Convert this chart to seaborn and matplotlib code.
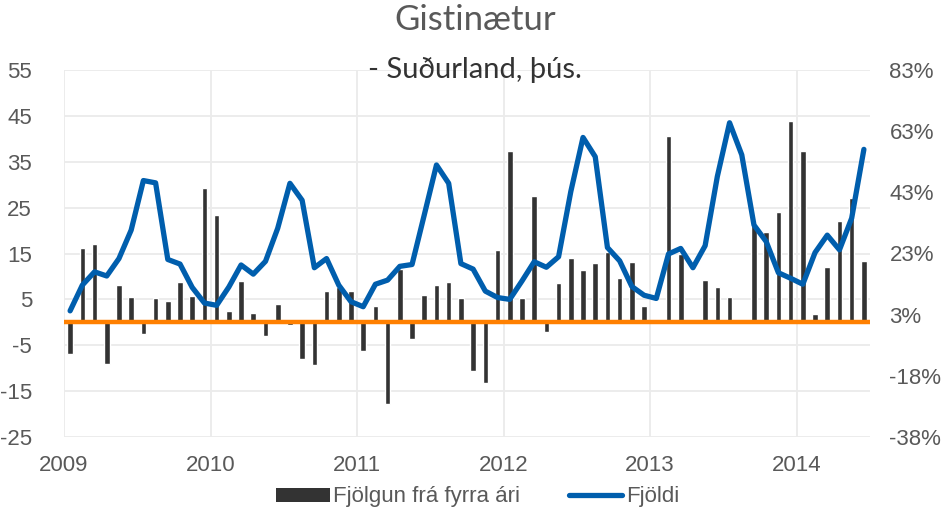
import numpy as np
import pandas as pd
import matplotlib
matplotlib.use("Agg")
import matplotlib.pyplot as plt
import seaborn as sns
from matplotlib.patches import Patch
from matplotlib.lines import Line2D

# Monthly guest nights in South Iceland, Jan 2009 - Jun 2014
months = pd.date_range("2009-01-01", "2014-06-01", freq="MS")

# Guest nights, thousands (left axis)
fjoldi = [
    2.5, 8.1, 11.0, 10.1, 13.9, 20.1, 30.9, 30.4, 13.7, 12.7, 7.6, 4.2,
    3.7, 7.7, 12.5, 10.5, 13.3, 20.5, 30.3, 26.6, 11.9, 13.9, 8.1, 4.5,
    3.4, 8.3, 9.2, 12.2, 12.6, 23.4, 34.3, 30.3, 12.8, 11.6, 6.8, 5.4,
    5.0, 9.0, 13.2, 12.0, 14.3, 28.5, 40.3, 36.1, 16.3, 13.4, 7.8, 5.9,
    5.2, 14.9, 16.1, 11.9, 16.7, 31.8, 43.5, 36.5, 21.2, 17.6, 10.8, 9.6,
    8.3, 15.2, 19.0, 15.8, 22.7, 37.7,
]

# Change from the same month a year earlier, percent (right axis)
fjolgun = [
    -10.4, 24.6, 25.7, -13.7, 12.3, 8.5, -3.7, 8.1, 7.0, 13.4, 8.7, 44.2,
    35.4, 3.8, 13.7, 3.0, -4.5, 5.9, -1.0, -12.1, -14.0, 10.4, 11.8, 10.4,
    -9.6, 5.4, -27.0, 17.5, -5.5, 9.1, 12.3, 13.2, 7.9, -15.9, -20.0, 23.8,
    56.6, 7.9, 41.6, -3.3, 12.9, 21.3, 17.3, 19.7, 23.3, 14.5, 19.8, 5.5,
    0.7, 61.4, 22.5, 0.0, 14.0, 11.8, 8.5, 0.5, 32.3, 29.7, 36.3, 66.4,
    56.6, 2.6, 18.4, 33.5, 41.1, 20.3,
]

year_labels = ["2009", "2010", "2011", "2012", "2013", "2014"]
left_ticks = list(range(-25, 56, 10))
right_lim = (-37.8, 83.2)

df = pd.DataFrame({
    "idx": np.arange(len(months)),
    "fjoldi": fjoldi,
    "fjolgun": fjolgun,
})

sns.set_theme(style="white")
plt.rcParams["font.family"] = ["Liberation Sans", "DejaVu Sans"]
plt.rcParams["axes.unicode_minus"] = False

TEXT = "#595959"
GRID = "#EBEBEB"
BAR = "#333333"
BLUE = "#005EAD"
ORANGE = "#FF8000"
TICK_SIZE = 16

W, H = 946, 516
fig = plt.figure(figsize=(W / 100, H / 100), dpi=100)
left, right, top, bottom = 64, 870, 70, 437
ax = fig.add_axes([left / W, 1 - bottom / H, (right - left) / W, (bottom - top) / H])

# Base axes: gridlines and left-hand scale
ax.set_ylim(-25, 55)
ax.set_yticks(left_ticks)
ax.set_axisbelow(True)
ax.grid(True, color=GRID, linewidth=1.3)
for s in ax.spines.values():
    s.set_visible(False)

# Bars: year-on-year change on the right-hand scale
axb = ax.twinx()
sns.barplot(data=df, x="idx", y="fjolgun", ax=axb, color=BAR,
            width=0.46, native_scale=True, saturation=1)
axb.axhline(0, color=ORANGE, linewidth=3.2, zorder=5)
axb.set_ylim(*right_lim)
axb.set_yticks(np.linspace(right_lim[0], right_lim[1], 7))
axb.set_yticklabels([f"{v:.0f}%" for v in np.linspace(right_lim[0], right_lim[1], 7)])
axb.set_ylabel("")
for s in axb.spines.values():
    s.set_visible(False)

# Line: number of guest nights on the left-hand scale, drawn above the bars
axl = ax.twinx()
sns.lineplot(data=df, x="idx", y="fjoldi", ax=axl, color=BLUE,
             linewidth=3.8, legend=False)
axl.set_ylim(-25, 55)
axl.set_yticks([])
axl.set_ylabel("")
for s in axl.spines.values():
    s.set_visible(False)

ax.set_xlim(-0.5, len(months) - 0.5)
ax.set_xticks([12 * k - 0.5 for k in range(len(year_labels))])
ax.set_xticklabels(year_labels)
ax.set_xlabel("")

ax.tick_params(axis="y", length=0, pad=23, labelsize=TICK_SIZE, labelcolor=TEXT)
ax.tick_params(axis="x", length=0, pad=13, labelsize=TICK_SIZE, labelcolor=TEXT)
axb.tick_params(axis="y", length=0, pad=14, labelsize=TICK_SIZE, labelcolor=TEXT)

fig.text(0.502, 0.962, "Gistinætur", ha="center", va="center",
         fontsize=25, color=TEXT, family=["Lato", "DejaVu Sans"])
fig.text(0.502, 0.864, "- Suðurland, þús.", ha="center", va="center",
         fontsize=21, color="#333333", family=["Lato", "DejaVu Sans"])

handles = [
    Patch(facecolor=BAR, edgecolor="none", label="Fjölgun frá fyrra ári"),
    Line2D([0], [0], color=BLUE, linewidth=3.8, label="Fjöldi"),
]
fig.legend(handles=handles, loc="center", bbox_to_anchor=(0.505, 0.037), ncol=2,
           frameon=False, fontsize=TICK_SIZE, labelcolor=TEXT,
           handlelength=2.4, handletextpad=0.15, columnspacing=2.2, handleheight=0.6)

fig.savefig("out.png", dpi=100)
